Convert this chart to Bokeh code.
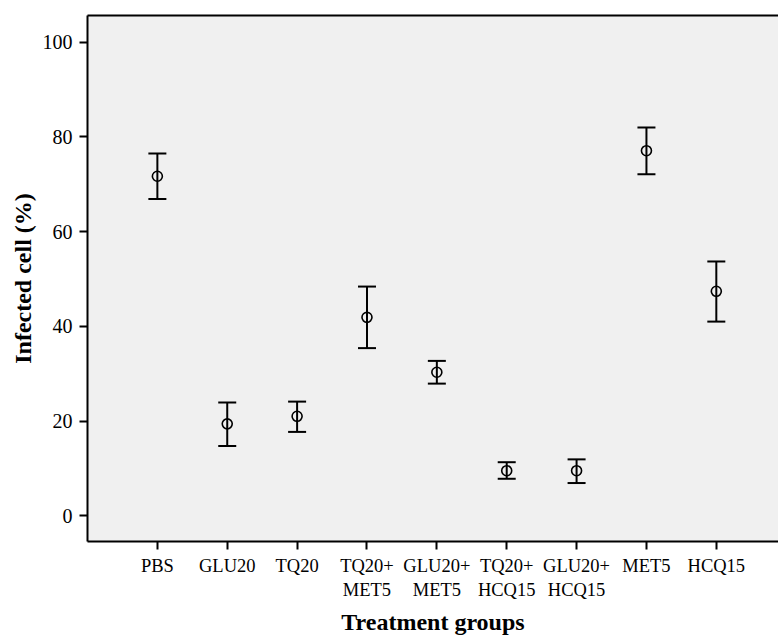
from bokeh.plotting import figure
from bokeh.models import ColumnDataSource, Whisker, TeeHead, LinearAxis, FixedTicker, Range1d
from bokeh.embed import file_html
from bokeh.resources import INLINE

groups = ["PBS", "GLU20", "TQ20", "TQ20+\nMET5", "GLU20+\nMET5",
          "TQ20+\nHCQ15", "GLU20+\nHCQ15", "MET5", "HCQ15"]
means = [71.7, 19.4, 21.0, 41.9, 30.3, 9.5, 9.5, 77.1, 47.4]
lower = [66.9, 14.7, 17.7, 35.4, 27.9, 7.8, 6.9, 72.1, 41.0]
upper = [76.5, 23.9, 24.1, 48.4, 32.7, 11.3, 11.9, 82.0, 53.7]
y_ticks = [0, 20, 40, 60, 80, 100]

pos = list(range(1, len(groups) + 1))
src = ColumnDataSource(dict(x=pos, m=means, lo=lower, hi=upper))

FONT = "Liberation Serif"

p = figure(width=778, height=637, output_backend="svg", toolbar_location=None,
           x_range=Range1d(0, 9.89), y_range=Range1d(-5.45, 105.66),
           min_border_left=87, min_border_top=15, min_border_bottom=92, min_border_right=0)
p.background_fill_color = "#f0f0f0"
p.border_fill_color = "white"
p.outline_line_color = None
p.grid.visible = False

xa = p.xaxis[0]
xa.ticker = FixedTicker(ticks=pos)
xa.major_label_overrides = {i + 1: g for i, g in enumerate(groups)}
xa.minor_tick_line_color = None
xa.major_tick_in = 0
xa.major_tick_out = 8
xa.major_tick_line_width = 2
xa.axis_line_width = 2
xa.axis_line_color = "black"
xa.major_tick_line_color = "black"
xa.major_label_text_font = FONT
xa.major_label_text_font_size = "18.5px"
xa.major_label_text_color = "black"
xa.major_label_standoff = 6
xa.axis_label = "Treatment groups"
xa.axis_label_text_font = FONT
xa.axis_label_text_font_style = "bold"
xa.axis_label_text_font_size = "24px"
xa.axis_label_text_color = "black"
xa.axis_label_standoff = 6

ya = p.yaxis[0]
ya.ticker = FixedTicker(ticks=y_ticks)
ya.minor_tick_line_color = None
ya.major_tick_in = 0
ya.major_tick_out = 8
ya.major_tick_line_width = 2
ya.axis_line_width = 2
ya.axis_line_color = "black"
ya.major_tick_line_color = "black"
ya.major_label_text_font = FONT
ya.major_label_text_font_size = "20px"
ya.major_label_text_color = "black"
ya.major_label_standoff = 7
ya.axis_label = "Infected cell (%)"
ya.axis_label_text_font = FONT
ya.axis_label_text_font_style = "bold"
ya.axis_label_text_font_size = "24px"
ya.axis_label_text_color = "black"
ya.axis_label_standoff = 4

top = LinearAxis(ticker=FixedTicker(ticks=[]), axis_line_width=2, axis_line_color="black",
                 major_tick_line_color=None, minor_tick_line_color=None,
                 major_label_standoff=0, major_tick_out=0, major_tick_in=0)
p.add_layout(top, "above")

p.add_layout(Whisker(source=src, base="x", lower="lo", upper="hi",
                     line_color="black", line_width=2,
                     lower_head=TeeHead(size=18, line_color="black", line_width=2),
                     upper_head=TeeHead(size=18, line_color="black", line_width=2)))
p.scatter("x", "m", source=src, marker="circle", size=10, fill_color=None,
          line_color="black", line_width=1.6)

open("out.html", "w").write(file_html(p, INLINE))
